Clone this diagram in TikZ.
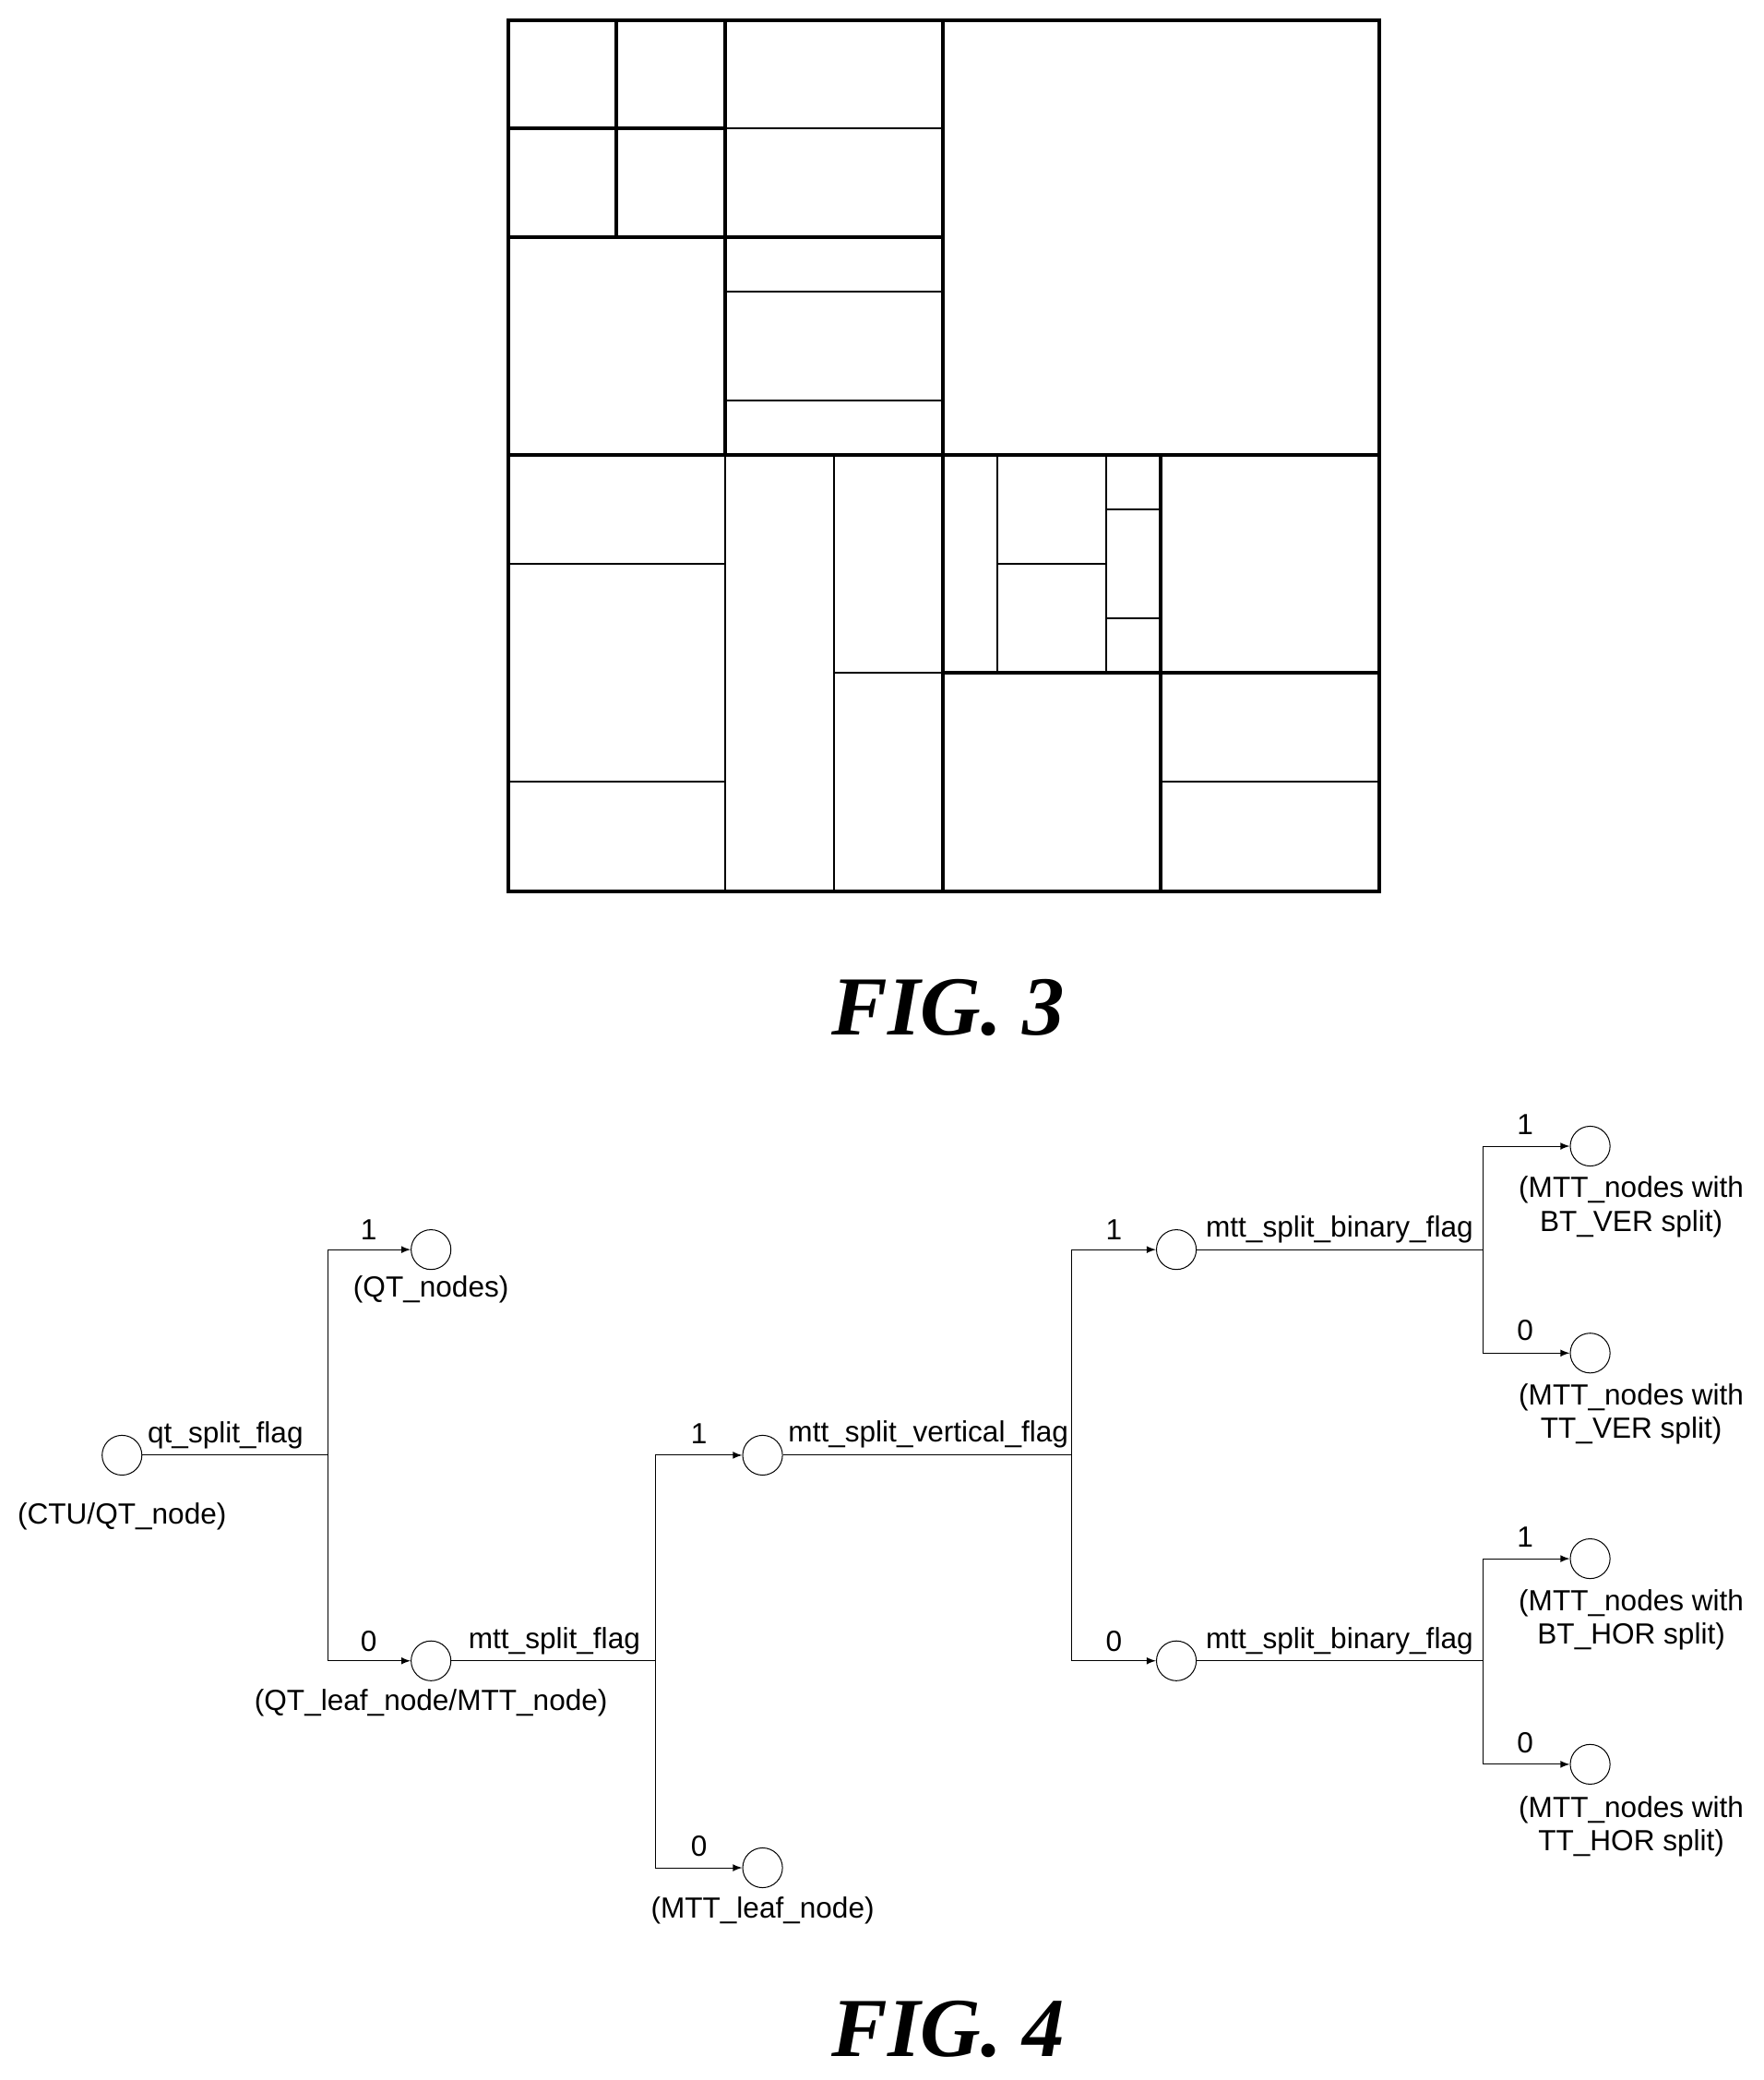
\documentclass[tikz,border=0pt]{standalone}
\usepackage{fontspec}
\setmainfont{Liberation Sans}
\newfontfamily\capfont{Liberation Serif}
\usetikzlibrary{arrows, positioning}

\begin{document}
\begin{tikzpicture}[x=0.02cm, y=-0.02cm,
    thk/.style={line width=1.6pt},
    thn/.style={line width=0.8pt},
    leaf/.style={circle, draw, thin, minimum size=0.6cm, inner sep=0pt},
    lbl/.style={font=\fontsize{12.5}{14.5}\selectfont, inner sep=1pt},
    figcap/.style={font=\capfont\bfseries\itshape\fontsize{36}{40}\selectfont},
    arrow/.style={thin,-latex},
    wire/.style={thin}]
    \useasboundingbox (0,0) rectangle (1330,1568);

    % FIG. 3 partition
    \draw [thk] (383,15) rectangle (1040,672);
    \draw [thk] (711,15) -- (711,672);
    \draw [thk] (383,343) -- (1040,343);
    \draw [thk] (547,15) -- (547,343);
    \draw [thk] (383,179) -- (711,179);
    \draw [thk] (465,15) -- (465,179);
    \draw [thk] (383,97) -- (547,97);
    \draw [thn] (547,97) -- (711,97);
    \draw [thn] (547,220) -- (711,220);
    \draw [thn] (547,302) -- (711,302);
    \draw [thn] (547,343) -- (547,672);
    \draw [thn] (383,425) -- (547,425);
    \draw [thn] (383,589) -- (547,589);
    \draw [thn] (629,343) -- (629,672);
    \draw [thn] (629,507) -- (711,507);
    \draw [thk] (711,507) -- (1040,507);
    \draw [thk] (875,343) -- (875,672);
    \draw [thn] (752,343) -- (752,507);
    \draw [thn] (834,343) -- (834,507);
    \draw [thn] (752,425) -- (834,425);
    \draw [thn] (834,384) -- (875,384);
    \draw [thn] (834,466) -- (875,466);
    \draw [thn] (875,589) -- (1040,589);

    \node [figcap] (fig3) at (715,760) {FIG. 3};

    % FIG. 4 tree
    \node [leaf] (root) at (92,1097) {};
    \node [leaf] (qt) at (325,942) {};
    \node [leaf] (qtleaf) at (325,1252) {};
    \node [leaf] (mttv) at (575,1097) {};
    \node [leaf] (mttleaf) at (575,1408) {};
    \node [leaf] (ver) at (887,942) {};
    \node [leaf] (hor) at (887,1252) {};
    \node [leaf] (btver) at (1199,864) {};
    \node [leaf] (ttver) at (1199,1020) {};
    \node [leaf] (bthor) at (1199,1175) {};
    \node [leaf] (tthor) at (1199,1330) {};

    \coordinate (j1) at (247,1097);
    \coordinate (j1a) at (247,942);
    \coordinate (j1b) at (247,1252);
    \coordinate (j2) at (494,1252);
    \coordinate (j2a) at (494,1097);
    \coordinate (j2b) at (494,1408);
    \coordinate (j3) at (808,1097);
    \coordinate (j3a) at (808,942);
    \coordinate (j3b) at (808,1252);
    \coordinate (j4) at (1118,942);
    \coordinate (j4a) at (1118,864);
    \coordinate (j4b) at (1118,1020);
    \coordinate (j5) at (1118,1252);
    \coordinate (j5a) at (1118,1175);
    \coordinate (j5b) at (1118,1330);

    % trunks
    \draw [wire] (root) -- (j1);
    \draw [wire] (j1a) -- (j1b);
    \draw [wire] (qtleaf) -- (j2);
    \draw [wire] (j2a) -- (j2b);
    \draw [wire] (mttv) -- (j3);
    \draw [wire] (j3a) -- (j3b);
    \draw [wire] (ver) -- (j4);
    \draw [wire] (j4a) -- (j4b);
    \draw [wire] (hor) -- (j5);
    \draw [wire] (j5a) -- (j5b);

    % branches
    \draw [arrow] (j1a) -- (qt);
    \draw [arrow] (j1b) -- (qtleaf);
    \draw [arrow] (j2a) -- (mttv);
    \draw [arrow] (j2b) -- (mttleaf);
    \draw [arrow] (j3a) -- (ver);
    \draw [arrow] (j3b) -- (hor);
    \draw [arrow] (j4a) -- (btver);
    \draw [arrow] (j4b) -- (ttver);
    \draw [arrow] (j5a) -- (bthor);
    \draw [arrow] (j5b) -- (tthor);

    % flag labels
    \node [lbl] (f1) at (170,1082) {qt\_split\_flag};
    \node [lbl] (f2) at (418,1237) {mtt\_split\_flag};
    \node [lbl] (f3) at (700,1081) {mtt\_split\_vertical\_flag};
    \node [lbl] (f4) at (1010,927) {mtt\_split\_binary\_flag};
    \node [lbl] (f5) at (1010,1237) {mtt\_split\_binary\_flag};

    % bit labels
    \node [lbl] (b1) at (278,927) {1};
    \node [lbl] (b2) at (278,1237) {0};
    \node [lbl] (b3) at (527,1081) {1};
    \node [lbl] (b4) at (527,1392) {0};
    \node [lbl] (b5) at (840,927) {1};
    \node [lbl] (b6) at (840,1237) {0};
    \node [lbl] (b7) at (1150,848) {1};
    \node [lbl] (b8) at (1150,1003) {0};
    \node [lbl] (b9) at (1150,1159) {1};
    \node [lbl] (b10) at (1150,1314) {0};

    % node labels
    \node [lbl] (l1) at (92,1143) {(CTU/QT\_node)};
    \node [lbl] (l2) at (325,972) {(QT\_nodes)};
    \node [lbl] (l3) at (325,1284) {(QT\_leaf\_node/MTT\_node)};
    \node [lbl] (l4) at (575,1440) {(MTT\_leaf\_node)};
    \node [lbl, align=center] (l5) at (1230,910) {(MTT\_nodes with\\BT\_VER split)};
    \node [lbl, align=center] (l6) at (1230,1066) {(MTT\_nodes with\\TT\_VER split)};
    \node [lbl, align=center] (l7) at (1230,1221) {(MTT\_nodes with\\BT\_HOR split)};
    \node [lbl, align=center] (l8) at (1230,1377) {(MTT\_nodes with\\TT\_HOR split)};

    \node [figcap] (fig4) at (715,1530) {FIG. 4};
\end{tikzpicture}
\end{document}
